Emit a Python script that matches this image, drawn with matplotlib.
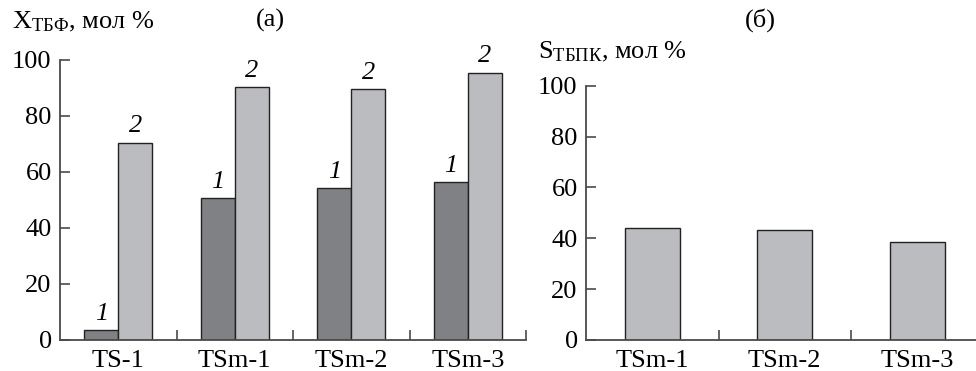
import numpy as np
import matplotlib.pyplot as plt

plt.rcParams['font.family'] = ['Liberation Serif', 'DejaVu Serif']
plt.rcParams['mathtext.fontset'] = 'custom'
plt.rcParams['mathtext.rm'] = 'Liberation Serif'
plt.rcParams['mathtext.it'] = 'Liberation Serif:italic'

# (а) конверсия ТБФ
cats_a = ['TS-1', 'TSm-1', 'TSm-2', 'TSm-3']
conv_1 = [3.5, 50.6, 54.2, 56.4]
conv_2 = [70.5, 90.3, 89.6, 95.4]

# (б) селективность ТБПК
cats_b = ['TSm-1', 'TSm-2', 'TSm-3']
sel = [44.2, 43.4, 38.5]

dark = '#808185'
light = '#bbbcc0'
axcol = '#4a4a4a'
fs = 19

fig = plt.figure(figsize=(9.76, 3.71), dpi=100)
ax1 = fig.add_axes([60 / 976, 31 / 371, 466 / 976, 280 / 371])
ax2 = fig.add_axes([586 / 976, 31 / 371, 397.5 / 976, 254.3 / 371])


def style(ax, n):
    for s in ['top', 'right']:
        ax.spines[s].set_visible(False)
    for s in ['left', 'bottom']:
        ax.spines[s].set_color(axcol)
        ax.spines[s].set_linewidth(1.3)
    ax.set_xlim(-0.5, n - 0.5)
    ax.set_ylim(0, 100)
    ax.set_yticks(np.arange(0, 101, 20))
    ax.tick_params(axis='y', direction='in', length=7, width=1.2, color=axcol,
                   labelsize=fs, pad=6)
    ax.tick_params(axis='x', which='major', length=0, labelsize=fs, pad=7)
    ax.set_xticks(np.arange(n) + 0.5, minor=True)
    ax.tick_params(axis='x', which='minor', direction='in', length=7, width=1.2,
                   color=axcol)


x = np.arange(len(cats_a))
w = 0.29
b1 = ax1.bar(x - w / 2, conv_1, w, color=dark, edgecolor='#222222', linewidth=1)
b2 = ax1.bar(x + w / 2, conv_2, w, color=light, edgecolor='#222222', linewidth=1)
for r in b1:
    ax1.annotate('1', (r.get_x() + r.get_width() / 2, r.get_height()),
                 xytext=(0, 4), textcoords='offset points', ha='center',
                 va='bottom', fontsize=fs, style='italic')
for r in b2:
    ax1.annotate('2', (r.get_x() + r.get_width() / 2, r.get_height()),
                 xytext=(0, 4), textcoords='offset points', ha='center',
                 va='bottom', fontsize=fs, style='italic')
style(ax1, len(cats_a))
ax1.set_xticks(x, cats_a)

xb = np.arange(len(cats_b))
ax2.bar(xb, sel, 0.415, color=light, edgecolor='#222222', linewidth=1)
style(ax2, len(cats_b))
ax2.set_xticks(xb, cats_b)

fig.text(12 / 976, 1 - 22 / 371, 'X$_{\\mathrm{ТБФ}}$, мол %', fontsize=fs,
         va='center', ha='left')
fig.text(270 / 976, 1 - 20 / 371, '(а)', fontsize=fs, va='center', ha='center')
fig.text(760 / 976, 1 - 20 / 371, '(б)', fontsize=fs, va='center', ha='center')
fig.text(538 / 976, 1 - 52 / 371, 'S$_{\\mathrm{ТБПК}}$, мол %', fontsize=fs,
         va='center', ha='left')

fig.savefig('out.png', dpi=100)
